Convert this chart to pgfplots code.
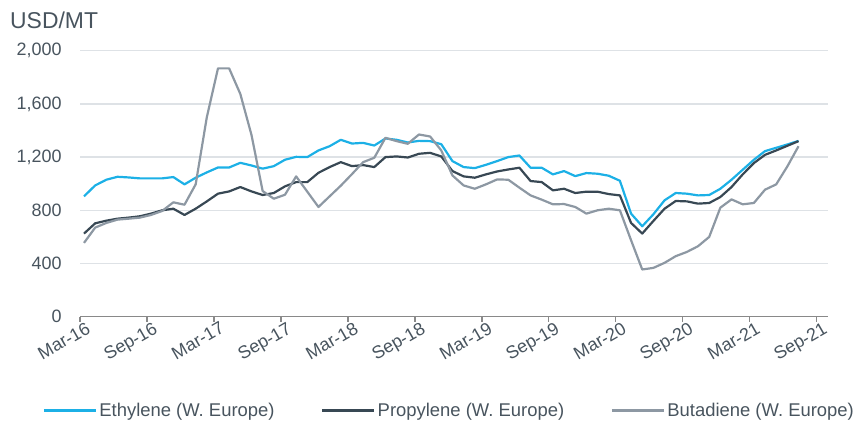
\documentclass[border=0pt]{standalone}
\usepackage{pgfplots}
\usepackage{pgfplotstable}
\pgfplotsset{compat=1.18}
\usepackage{fontspec}
\setmainfont{Liberation Sans}
\definecolor{ethc}{RGB}{28,176,230}
\definecolor{proc}{RGB}{56,72,84}
\definecolor{butc}{RGB}{141,152,163}
\definecolor{textc}{RGB}{72,84,94}
\definecolor{gridc}{RGB}{222,226,230}
\definecolor{axisc}{RGB}{137,137,137}

\pgfplotstableread{
x eth pro but
0.36 905 625 555
1.36 987 702 670
2.36 1030 722 705
3.36 1052 737 730
4.36 1047 745 737
5.36 1040 755 745
6.36 1040 775 765
7.36 1040 800 795
8.36 1050 812 860
9.36 995 765 842
10.36 1045 812 995
11.36 1085 867 1500
12.36 1122 925 1867
13.36 1122 942 1867
14.36 1157 975 1675
15.36 1137 942 1367
16.36 1113 915 945
17.36 1132 930 887
18.36 1180 980 917
19.36 1202 1012 1055
20.36 1200 1012 940
21.36 1250 1082 825
22.36 1282 1125 905
23.36 1330 1162 985
24.36 1302 1132 1072
25.36 1307 1140 1162
26.36 1287 1125 1195
27.36 1340 1200 1345
28.36 1330 1205 1320
29.36 1310 1197 1300
30.36 1322 1225 1370
31.36 1320 1232 1355
32.36 1297 1205 1250
33.36 1170 1095 1062
34.36 1125 1055 987
35.36 1117 1045 962
36.36 1142 1070 995
37.36 1170 1092 1032
38.36 1200 1107 1030
39.36 1212 1120 970
40.36 1120 1020 912
41.36 1120 1012 880
42.36 1070 950 845
43.36 1095 962 847
44.36 1057 930 825
45.36 1080 940 775
46.36 1075 940 800
47.36 1060 922 812
48.36 1022 912 800
49.36 775 705 575
50.36 680 625 355
51.36 770 720 367
52.36 875 812 405
53.36 930 870 455
54.36 925 867 487
55.36 912 850 530
56.36 915 855 600
57.36 962 900 820
58.36 1030 975 882
59.36 1105 1070 845
60.36 1180 1155 855
61.36 1245 1217 955
62.36 1270 1250 995
63.36 1295 1285 1130
64.36 1322 1320 1282
}\data

\begin{document}
\begin{tikzpicture}
\useasboundingbox (-80bp,-104.3bp) rectangle (776bp,316.7bp);
\begin{axis}[
  at={(0,0)}, anchor=south west,
  scale only axis, width=748bp, height=266bp,
  xmin=0, xmax=67, ymin=0, ymax=2000,
  axis x line*=bottom, axis y line*=left,
  y axis line style={draw=none},
  x axis line style={draw=axisc, line width=1.2bp},
  xtick={0,6,...,66},
  xticklabels={Mar-16,Sep-16,Mar-17,Sep-17,Mar-18,Sep-18,Mar-19,Sep-19,Mar-20,Sep-20,Mar-21,Sep-21},
  ytick={0,400,...,2000},
  ymajorgrids,
  grid style={draw=gridc, line width=1.4bp},
  tick align=outside,
  major tick length=5bp,
  xtick style={draw=axisc, line width=1.2bp},
  ytick style={draw=none},
  /pgf/number format/assume math mode=true,
  /pgf/number format/.cd, 1000 sep={,}, /pgfplots/.cd,
  tick label style={font=\fontsize{18}{20}\selectfont, text=textc},
  yticklabel style={anchor=east, xshift=-10bp},
  xticklabel style={rotate=30, anchor=north east, inner sep=1bp, xshift=6bp, yshift=-1bp},
  legend columns=3,
  legend style={at={(0.494,-0.353)}, anchor=center, draw=none, fill=none,
    font=\fontsize{18.5}{20}\selectfont, text=textc,
    /tikz/every even column/.append style={column sep=44bp},
    nodes={inner sep=2.5bp}},
  legend image code/.code={\draw[#1] (0bp,0bp) -- (52bp,0bp);},
  every axis plot/.append style={line width=2.2bp, line join=round},
]
\addplot[color=ethc, no marks] table[x=x, y=eth] {\data};
\addlegendentry{Ethylene (W. Europe)}
\addplot[color=proc, no marks] table[x=x, y=pro] {\data};
\addlegendentry{Propylene (W. Europe)}
\addplot[color=butc, no marks] table[x=x, y=but] {\data};
\addlegendentry{Butadiene (W. Europe)}
\end{axis}
\node[anchor=base west, font=\fontsize{23}{26}\selectfont, text=textc, inner sep=0pt] at (-70bp,287.7bp) {USD/MT};
\end{tikzpicture}
\end{document}
